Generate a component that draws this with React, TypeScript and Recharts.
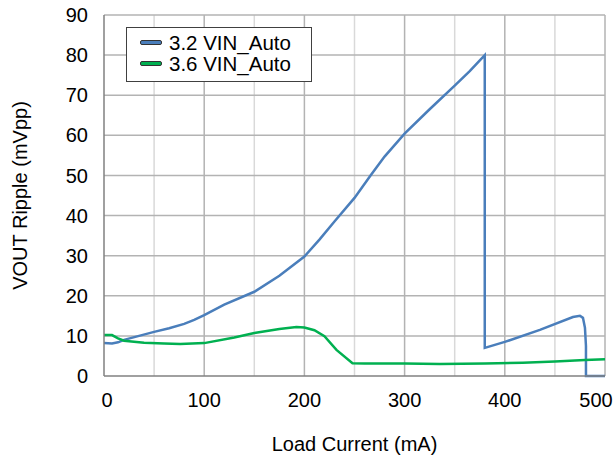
import React from 'react'
import { LineChart, Line, XAxis, YAxis, ReferenceLine } from 'recharts'

// values
const vin32Current = [0, 8, 14, 20, 35, 50, 65, 80, 90, 100, 120, 150, 175, 200, 215, 230, 250, 266, 280, 300, 325, 350, 365, 380, 380, 400, 435, 468, 475, 478, 480, 481, 481, 500]
const vin32Ripple = [8.2, 8.1, 8.4, 9.0, 10.0, 11.0, 11.9, 13.0, 14.0, 15.2, 17.8, 21.0, 25.0, 29.8, 34.0, 38.5, 44.4, 50.0, 54.7, 60.4, 66.5, 72.4, 76.0, 80.0, 7.0, 8.5, 11.5, 14.7, 15.0, 14.5, 12.0, 7.5, 0, 0]

const vin36Current = [0, 8, 14, 20, 40, 60, 76, 100, 130, 150, 175, 192, 200, 210, 220, 232, 248, 260, 300, 335, 380, 418, 450, 480, 500]
const vin36Ripple = [10.2, 10.2, 9.4, 8.8, 8.3, 8.1, 8.0, 8.2, 9.6, 10.7, 11.7, 12.2, 12.1, 11.4, 9.9, 6.5, 3.2, 3.1, 3.1, 3.0, 3.1, 3.3, 3.6, 4.0, 4.2]

const xTicks = [0, 100, 200, 300, 400, 500]
const yTicks = [0, 10, 20, 30, 40, 50, 60, 70, 80, 90]
const xMajorGrid = [100, 200, 300, 400, 500]
const xMinorGrid = [50, 150, 250, 350, 450]
const yGrid = [10, 20, 30, 40, 50, 60, 70, 80, 90]

const series = [
  { name: '3.2 VIN_Auto', color: '#4a7ebb', x: vin32Current, y: vin32Ripple },
  { name: '3.6 VIN_Auto', color: '#00b050', x: vin36Current, y: vin36Ripple },
]

const font = '"Liberation Sans", Arial, Helvetica, sans-serif'

function LegendBox() {
  return (
    <div
      style={{
        position: 'absolute',
        left: 126,
        top: 27,
        border: '1.5px solid #404040',
        background: '#fff',
        width: 186,
        height: 55,
        boxSizing: 'border-box',
        padding: '4px 0 0 13px',
        fontFamily: font,
        fontSize: 20.5,
        color: '#000',
        lineHeight: '21px',
      }}
    >
      {series.map((s) => (
        <div key={s.name} style={{ display: 'flex', alignItems: 'center' }}>
          <span
            style={{
              display: 'inline-block',
              width: 20,
              height: 3,
              background: s.color,
              border: '1px solid #333',
              borderRadius: 2,
              marginRight: 7,
            }}
          />
          {s.name}
        </div>
      ))}
    </div>
  )
}

// the end x labels sit a little inside the plot edges, as in the reference
function XTick({ x, y, payload }: any) {
  const shift = payload.value === 500 ? -8 : payload.value === 0 ? 3 : 0
  return (
    <text x={x + shift} y={y} dy={15} textAnchor="middle" fill="#000" fontSize={20} fontFamily={font}>
      {payload.value}
    </text>
  )
}

export default function App() {
  const tick = { fill: '#000', fontSize: 20, fontFamily: font }

  return (
    <div style={{ position: 'absolute', left: 0, top: 0, background: '#fff', width: 616, height: 458 }}>
      <LineChart width={616} height={458} margin={{ top: 15, right: 11, bottom: 0, left: 0 }}>
        <XAxis
          type="number"
          dataKey="x"
          domain={[0, 500]}
          ticks={xTicks}
          allowDuplicatedCategory={false}
          tick={<XTick />}
          tickLine={false}
          axisLine={{ stroke: '#808080', strokeWidth: 1.5 }}
          tickMargin={10}
          height={82}
          label={{
            value: 'Load Current (mA)',
            position: 'insideBottom',
            offset: 7,
            style: { fill: '#000', fontSize: 20, fontFamily: font },
          }}
        />
        <YAxis
          type="number"
          domain={[0, 90]}
          ticks={yTicks}
          tick={tick}
          tickLine={false}
          axisLine={{ stroke: '#808080', strokeWidth: 1.5 }}
          tickMargin={10}
          width={104}
          label={{
            value: 'VOUT Ripple (mVpp)',
            angle: -90,
            position: 'insideLeft',
            offset: 20,
            style: { fill: '#000', fontSize: 20, fontFamily: font, textAnchor: 'middle' },
          }}
        />
        {xMinorGrid.map((v) => (
          <ReferenceLine key={'xm' + v} x={v} stroke="#d9d9d9" strokeWidth={1.5} />
        ))}
        {xMajorGrid.map((v) => (
          <ReferenceLine key={'xM' + v} x={v} stroke="#b3b3b3" strokeWidth={1.5} />
        ))}
        {yGrid.map((v) => (
          <ReferenceLine key={'y' + v} y={v} stroke="#b3b3b3" strokeWidth={1.5} />
        ))}
        {series.map((s) => (
          <Line
            key={s.name}
            name={s.name}
            data={s.x.map((x, i) => ({ x, v: s.y[i] }))}
            dataKey="v"
            type="linear"
            stroke={s.color}
            strokeWidth={2.5}
            dot={false}
            activeDot={false}
            isAnimationActive={false}
          />
        ))}
      </LineChart>
      <LegendBox />
    </div>
  )
}
